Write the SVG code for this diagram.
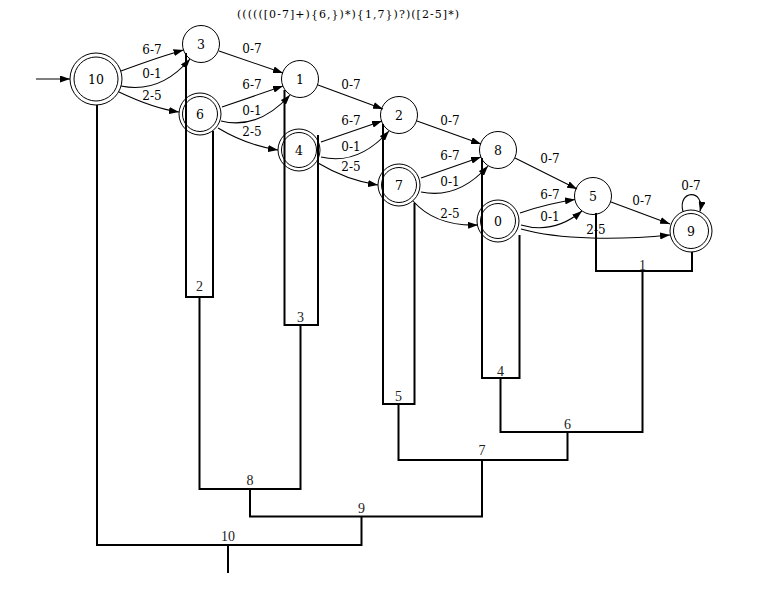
<svg xmlns="http://www.w3.org/2000/svg" width="761" height="590" viewBox="0 0 761 590">
<style>
.bg{fill:#fff}
.n{fill:#fff;stroke:#000;stroke-width:1}
.nl{font-family:"DejaVu Serif",serif;font-size:12.5px;text-anchor:middle;fill:#000}
.e{fill:none;stroke:#000;stroke-width:1.1;marker-end:url(#ah)}
.el{font-family:"DejaVu Serif",serif;font-size:12px;text-anchor:middle;fill:#000}
.b{fill:none;stroke:#000;stroke-width:2}
.bl{font-family:"Liberation Serif",serif;font-size:14px;text-anchor:middle;fill:#222}
.t{font-family:"DejaVu Serif",serif;font-size:11px;text-anchor:middle;fill:#000}
</style>
<defs>
<marker id="ah" viewBox="0 0 10 7" refX="10" refY="3.5" markerWidth="10" markerHeight="7" markerUnits="userSpaceOnUse" orient="auto">
<path d="M0,0 L10,3.5 L0,7 z" fill="#000"/>
</marker>
</defs>
<rect class="bg" x="0" y="0" width="761" height="590"/>
<text class="t" x="348" y="18" textLength="222">((((([0-7]+){6,})*){1,7})?)([2-5]*)</text>

<g id="nodes">
<g id="node10"><circle class="n" cx="96" cy="79" r="26"/><circle class="n" cx="96" cy="79" r="22"/><text class="nl" x="96" y="83.5">10</text></g>
<g id="node3"><circle class="n" cx="201" cy="44" r="18.5"/><text class="nl" x="201" y="48.5">3</text></g>
<g id="node6"><circle class="n" cx="200" cy="114" r="21"/><circle class="n" cx="200" cy="114" r="17.5"/><text class="nl" x="200" y="118.5">6</text></g>
<g id="node1"><circle class="n" cx="300" cy="79" r="18.5"/><text class="nl" x="300" y="83.5">1</text></g>
<g id="node4"><circle class="n" cx="299" cy="150" r="21"/><circle class="n" cx="299" cy="150" r="17.5"/><text class="nl" x="299" y="154.5">4</text></g>
<g id="node2"><circle class="n" cx="399" cy="115" r="18.5"/><text class="nl" x="399" y="119.5">2</text></g>
<g id="node7"><circle class="n" cx="399" cy="185" r="21"/><circle class="n" cx="399" cy="185" r="17.5"/><text class="nl" x="399" y="189.5">7</text></g>
<g id="node8"><circle class="n" cx="498" cy="150" r="18.5"/><text class="nl" x="498" y="154.5">8</text></g>
<g id="node0"><circle class="n" cx="498" cy="221" r="21"/><circle class="n" cx="498" cy="221" r="17.5"/><text class="nl" x="498" y="225.5">0</text></g>
<g id="node5"><circle class="n" cx="593" cy="196" r="18.5"/><text class="nl" x="593" y="200.5">5</text></g>
<g id="node9"><circle class="n" cx="691" cy="231" r="21"/><circle class="n" cx="691" cy="231" r="17.5"/><text class="nl" x="691" y="235.5">9</text></g>
</g>

<g id="connectors">
<path class="e" d="M36,79 L70,79"/>
<path class="e" d="M121,71 C140,64 162,56 183.5,50"/>
<text class="el" x="152" y="54">6-7</text>
<path class="e" d="M121,86 C150,92 172,80 190,59"/>
<text class="el" x="152" y="78">0-1</text>
<path class="e" d="M119,92 C140,102 158,109 179,112"/>
<text class="el" x="152" y="100">2-5</text>

<path class="e" d="M219,51 L283,73"/>
<text class="el" x="252" y="52.5">0-7</text>
<path class="e" d="M222,107 L283,86"/>
<text class="el" x="252" y="88.5">6-7</text>
<path class="e" d="M221,121 C250,128 272,115 290,95"/>
<text class="el" x="252" y="114.5">0-1</text>
<path class="e" d="M218,128 C238,140 258,147 278,150"/>
<text class="el" x="252" y="136">2-5</text>

<path class="e" d="M318,85 L383,109"/>
<text class="el" x="351" y="88.5">0-7</text>
<path class="e" d="M321,142 L382,121"/>
<text class="el" x="351" y="124.5">6-7</text>
<path class="e" d="M321,157 C350,164 372,150 389,131"/>
<text class="el" x="351" y="150.5">0-1</text>
<path class="e" d="M318,163 C338,175 358,182 378,185"/>
<text class="el" x="351" y="171">2-5</text>

<path class="e" d="M417,121 L481,144"/>
<text class="el" x="450" y="124.5">0-7</text>
<path class="e" d="M421,178 L481,157"/>
<text class="el" x="450" y="159.5">6-7</text>
<path class="e" d="M421,192 C450,198 471,185 488,166"/>
<text class="el" x="450" y="185.5">0-1</text>
<path class="e" d="M413,201 C428,218 450,226 478,225"/>
<text class="el" x="450" y="217.5">2-5</text>

<path class="e" d="M515,158 L577,189"/>
<text class="el" x="550" y="162.5">0-7</text>
<path class="e" d="M520,213 C540,206 558,202 575,199.5"/>
<text class="el" x="550" y="198.5">6-7</text>
<path class="e" d="M521,225 C545,232 565,225 582,211"/>
<text class="el" x="550" y="221">0-1</text>
<path class="e" d="M521,229 C560,240 620,240 670,235"/>
<text class="el" x="596" y="233.5">2-5</text>
<path class="e" d="M611,202 L670,224"/>
<text class="el" x="642" y="205">0-7</text>
<path class="e" d="M683,211.5 C677,190 705,188 700,211.5"/>
<text class="el" x="691" y="189.5">0-7</text>

<path class="b" d="M186,53 V297 H213 V131"/>
<text class="bl" x="199.5" y="291">2</text>
<path class="b" d="M284.5,90 V325 H318 V135"/>
<text class="bl" x="300.5" y="321.5">3</text>
<path class="b" d="M383,124 V404 H414.5 V203"/>
<text class="bl" x="398.5" y="400.5">5</text>
<path class="b" d="M482,158 V378 H519.5 V235"/>
<text class="bl" x="500.5" y="375.5">4</text>
<path class="b" d="M596,213 V271 H692 V252"/>
<text class="bl" x="642.5" y="270">1</text>
<path class="b" d="M500.5,378 V432 H642.5 V271"/>
<text class="bl" x="567.5" y="428.5">6</text>
<path class="b" d="M398.5,404 V460 H567.5 V432"/>
<text class="bl" x="482" y="455">7</text>
<path class="b" d="M199.5,297 V489 H300.5 V325"/>
<text class="bl" x="250" y="485">8</text>
<path class="b" d="M250,489 V516.5 H482 V460"/>
<text class="bl" x="361.5" y="512.5">9</text>
<path class="b" d="M97,105 V545 H361.5 V516.5"/>
<text class="bl" x="228" y="541">10</text>
<path class="b" d="M228,545 V573"/>
</g>
</svg>
